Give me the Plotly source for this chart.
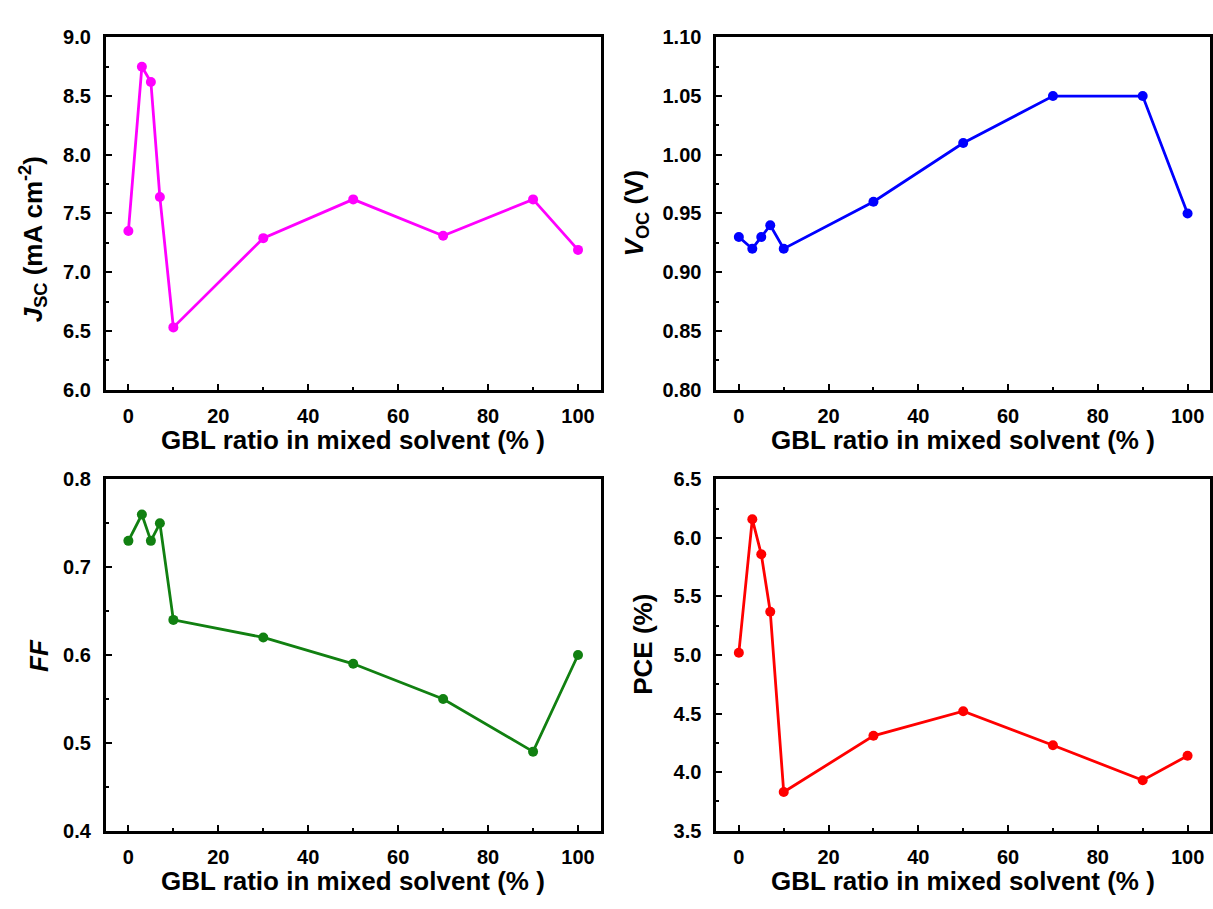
import plotly.graph_objects as go

gbl_ratio = [0, 3, 5, 7, 10, 30, 50, 70, 90, 100]
jsc = [7.35, 8.75, 8.62, 7.64, 6.53, 7.29, 7.62, 7.31, 7.62, 7.19]
voc = [0.93, 0.92, 0.93, 0.94, 0.92, 0.96, 1.01, 1.05, 1.05, 0.95]
ff = [0.73, 0.76, 0.73, 0.75, 0.64, 0.62, 0.59, 0.55, 0.49, 0.60]
pce = [5.02, 6.16, 5.86, 5.37, 3.83, 4.31, 4.52, 4.23, 3.93, 4.14]

x_title = "GBL ratio in mixed solvent (% )"
W, H = 1213, 909
FONT = "Liberation Sans, Arial, sans-serif"

panels = [
    dict(y=jsc, color="#FF00FF", xpx=(106, 601), ypx=(27, 388), yr=[6, 9], dt=0.5, fmt=".1f",
         title="<i>J</i><sub>SC</sub> (mA cm<sup>-2</sup>)", tx=33, ty=234),
    dict(y=voc, color="#0000FF", xpx=(717, 1211), ypx=(27, 388), yr=[0.8, 1.1], dt=0.05, fmt=".2f",
         title="<i>V</i><sub>OC</sub> (V)", tx=637, ty=207),
    dict(y=ff, color="#118011", xpx=(106, 601), ypx=(480, 840), yr=[0.4, 0.8], dt=0.1, fmt=".1f",
         title="<i>FF</i>", tx=39, ty=660),
    dict(y=pce, color="#FF0000", xpx=(717, 1211), ypx=(480, 840), yr=[3.5, 6.5], dt=0.5, fmt=".1f",
         title="PCE (%)", tx=644, ty=649),
]

fig = go.Figure()
annotations = []
layout = {}
for i, p in enumerate(panels, start=1):
    xa = "x" if i == 1 else f"x{i}"
    ya = "y" if i == 1 else f"y{i}"
    fig.add_trace(go.Scatter(
        x=gbl_ratio, y=p["y"], xaxis=xa, yaxis=ya, mode="lines+markers",
        line=dict(color=p["color"], width=2.8),
        marker=dict(color=p["color"], size=10, symbol="circle"),
        showlegend=False,
    ))
    axcommon = dict(
        showline=True, linecolor="black", linewidth=3, mirror=True,
        ticks="inside", ticklen=6, tickwidth=2, tickcolor="black",
        showgrid=False, zeroline=False,
        tickfont=dict(family=FONT, size=20, color="black", weight="bold"),
    )
    layout["xaxis" if i == 1 else f"xaxis{i}"] = dict(
        domain=[p["xpx"][0] / W, p["xpx"][1] / W],
        range=[-5, 105], dtick=20, tick0=0,
        minor=dict(ticks="inside", ticklen=3, tickwidth=2, dtick=10, tickcolor="black"),
        anchor=ya, ticklabelstandoff=6, **axcommon,
    )
    layout["yaxis" if i == 1 else f"yaxis{i}"] = dict(
        domain=[1 - p["ypx"][1] / H, 1 - p["ypx"][0] / H],
        range=p["yr"], dtick=p["dt"], tick0=p["yr"][0], tickformat=p["fmt"],
        minor=dict(ticks="inside", ticklen=3, tickwidth=2, dtick=p["dt"] / 2, tickcolor="black"),
        anchor=xa, ticklabelstandoff=8, **axcommon,
    )
    annotations.append(dict(
        text=p["title"], textangle=-90, xref="paper", yref="paper",
        x=p["tx"] / W, y=1 - p["ty"] / H, xanchor="center", yanchor="middle",
        showarrow=False, font=dict(family=FONT, size=26, color="black", weight="bold"),
    ))
    xc = (p["xpx"][0] + p["xpx"][1]) / 2
    annotations.append(dict(
        text=x_title, xref="paper", yref="paper",
        x=xc / W, y=1 - (p["ypx"][1] + 52) / H, xanchor="center", yanchor="middle",
        showarrow=False, font=dict(family=FONT, size=26, color="black", weight="bold"),
    ))

fig.update_layout(
    width=W, height=H, margin=dict(l=0, r=0, t=0, b=0),
    paper_bgcolor="white", plot_bgcolor="white",
    annotations=annotations, **layout,
)
fig.write_html(
    "out.html",
    config={"displayModeBar": False},
    post_script="document.body.style.margin='0px';document.body.style.overflow='hidden';",
)
